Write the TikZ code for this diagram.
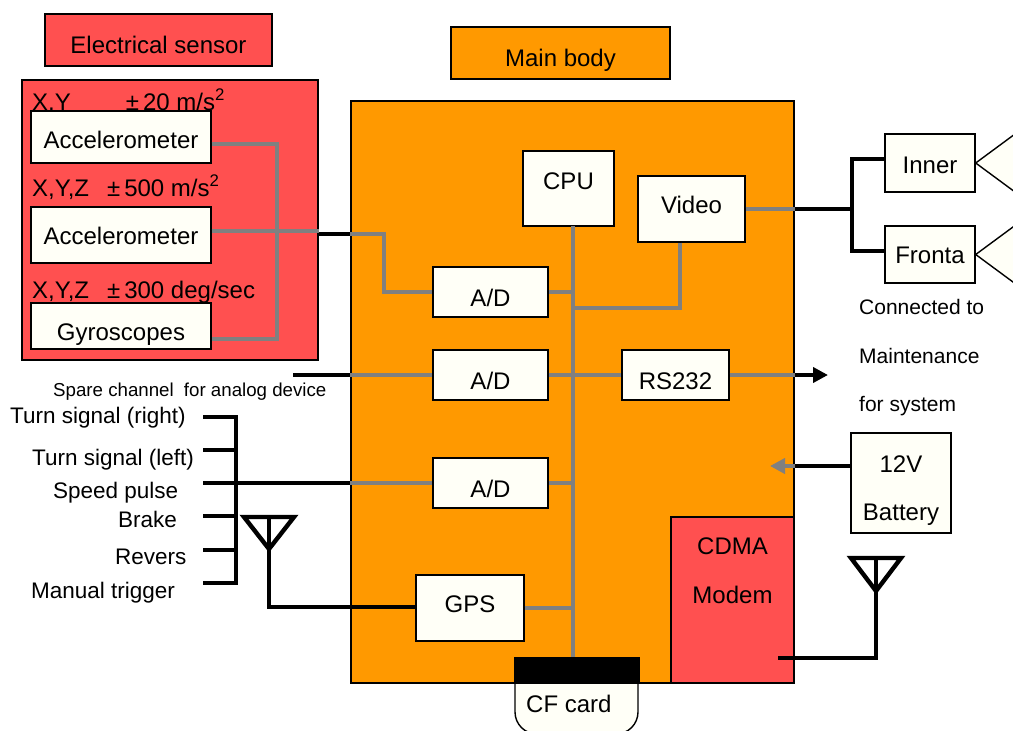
\documentclass[tikz,border=0pt]{standalone}
\usepackage{fontspec}
\setmainfont{Liberation Sans}
\usetikzlibrary{arrows.meta}
\definecolor{bodyorange}{HTML}{FF9900}
\definecolor{sensorred}{HTML}{FF5050}
\definecolor{boxcream}{HTML}{FFFFF7}
\definecolor{wiregrey}{HTML}{808080}
% text with its baseline a given distance below the centre of the box
\newcommand{\basetext}[2]{\raisebox{-#1pt}[0pt][0pt]{#2}}
\tikzset{
    box/.style={draw=black, line width=1.4pt, fill=#1, inner sep=0pt, font=\fontsize{24}{28}\selectfont},
    box/.default=boxcream,
    lab/.style={anchor=base west, inner sep=0pt, font=\fontsize{24}{28}\selectfont},
    smalllab/.style={lab, font=\fontsize{21}{25}\selectfont},
    siglab/.style={lab, font=\fontsize{22.5}{26}\selectfont},
    greywire/.style={draw=wiregrey, line width=4pt},
    blackwire/.style={draw=black, line width=4.4pt},
    thinwire/.style={draw=black, line width=3.4pt}
}
\begin{document}
\begin{tikzpicture}[>={Triangle[length=15pt,width=15pt]}, x=1pt, y=-1pt]
    \clip (0,0) rectangle (1013,731);

    % titles
    \node[box=sensorred, minimum width=227pt, minimum height=52pt] (sensortitle) at (158.5,40) {\basetext{13}{Electrical sensor}};
    \node[box=bodyorange, minimum width=219pt, minimum height=52pt] (bodytitle) at (560.5,53) {\basetext{13}{Main body}};

    % sensor block
    \node[box=sensorred, minimum width=296pt, minimum height=280pt] (sensor) at (170,220) {};
    \node[lab] (rangea) at (32,110) {X,Y\hspace{55pt}±\,20 m/s\textsuperscript{2}};
    \node[lab] (rangeb) at (32,196) {X,Y,Z\hspace{18pt}±\,500 m/s\textsuperscript{2}};
    \node[lab] (rangec) at (32,298) {X,Y,Z\hspace{18pt}±\,300 deg/sec};
    \node[box, minimum width=180pt, minimum height=52pt] (acca) at (121,137) {\basetext{11}{Accelerometer}};
    \node[box, minimum width=180pt, minimum height=56pt] (accb) at (121,235) {\basetext{9}{Accelerometer}};
    \node[box, minimum width=180pt, minimum height=46pt] (gyro) at (121,326) {\basetext{14}{Gyroscopes}};

    % main body
    \node[box=bodyorange, minimum width=443pt, minimum height=582pt] (body) at (572.5,392) {};
    \node[box=sensorred, minimum width=123pt, minimum height=166pt] (modem) at (732.5,600) {};
    \node[lab, anchor=base] (modema) at (732.5,554) {CDMA};
    \node[lab, anchor=base] (modemb) at (732.5,603) {Modem};

    \node[box, minimum width=91pt, minimum height=75pt] (cpu) at (568.5,188.5) {\basetext{1}{CPU}};
    \node[box, minimum width=107pt, minimum height=66pt] (video) at (691.5,209) {\basetext{4}{Video}};
    \node[box, minimum width=115pt, minimum height=50pt] (ada) at (490.5,292) {\basetext{14}{A/D}};
    \node[box, minimum width=115pt, minimum height=50pt] (adb) at (490.5,375) {\basetext{14}{A/D}};
    \node[box, minimum width=115pt, minimum height=50pt] (adc) at (490.5,483) {\basetext{14}{A/D}};
    \node[box, minimum width=107pt, minimum height=50pt] (rs) at (675.5,375) {\basetext{14}{RS232}};
    \node[box, minimum width=108pt, minimum height=66pt] (gps) at (470,608) {\basetext{4}{GPS}};

    % CF card
    \draw[line width=1.4pt, fill=boxcream] (515,675) {[rounded corners=22pt] -- (515,734) -- (638,734)} -- (638,675) -- cycle;
    \node[fill=black, draw=black, minimum width=125pt, minimum height=26pt, inner sep=0pt] (cfslot) at (576.5,670) {};
    \node[lab] (cflabel) at (526,712) {CF card};

    % outside boxes
    \node[box, minimum width=90pt, minimum height=58pt] (inner) at (930,163) {\basetext{10}{Inner}};
    \node[box, minimum width=90pt, minimum height=57pt] (front) at (930,254.5) {\basetext{9}{Fronta}};
    \node[box, minimum width=100pt, minimum height=100pt] (battery) at (901,483) {};
    \node[lab, anchor=base] (batterya) at (901,472) {12V};
    \node[lab, anchor=base] (batteryb) at (901,520) {Battery};

    % cameras, cut off by the page edge
    \foreach \cam in {inner, front} {
        \draw[line width=1.4pt, fill=boxcream] (\cam.east) -- ++(42,-31) -- ++(0,62) -- cycle;
    }

    % sensor wiring
    \coordinate (sensorbus) at (277,144);
    \draw[greywire] ([yshift=-7pt]acca.east) -- (sensorbus) -- (sensorbus |- 0,339) -- ([yshift=-13pt]gyro.east);
    \draw[greywire] ([yshift=4pt]accb.east) -- (sensor.east |- 0,231);
    \coordinate (senswest) at (sensor.east |- 0,234);
    \coordinate (bodywesta) at (body.west |- 0,234);
    \draw[blackwire] (senswest) -- (bodywesta);
    \draw[greywire] (bodywesta) -- (384,234) -- (384,292) -- (ada.west);

    % internal bus
    \coordinate (bustop) at (573,226);
    \coordinate (busbot) at (573,657);
    \draw[greywire] (bustop) -- (busbot);
    \draw[greywire] (ada.east) -- (ada.east -| bustop);
    \draw[greywire] (adb.east) -- (rs.west);
    \draw[greywire] (adc.east) -- (adc.east -| bustop);
    \draw[greywire] (gps.east) -- (gps.east -| bustop);
    \draw[greywire] ([xshift=-11.5pt]video.south) -- (680,308) -- (bustop |- 0,308);

    % video output
    \coordinate (bodyeastv) at (body.east |- video.east);
    \coordinate (splitv) at (852,209);
    \draw[greywire] (video.east) -- (bodyeastv);
    \draw[blackwire] (bodyeastv) -- (splitv);
    \draw[blackwire] (inner.west |- 0,159) -- (splitv |- 0,159) -- (splitv |- 0,251) -- (front.west |- 0,251);

    % spare channel
    \coordinate (sparein) at (293,375);
    \draw[thinwire] (sparein) -- (body.west |- adb.west);
    \draw[greywire] (body.west |- adb.west) -- (adb.west);
    \node[lab, font=\fontsize{18.7}{22}\selectfont] (sparelab) at (53,396) {Spare channel\hspace{5pt} for analog device};

    % RS232 output
    \coordinate (rsout) at (828,375);
    \draw[greywire] (rs.east) -- (body.east |- rs.east);
    \draw[blackwire, ->] (body.east |- rs.east) -- (rsout);
    \node[smalllab] (conna) at (859,314) {Connected to};
    \node[smalllab] (connb) at (859,363) {Maintenance};
    \node[smalllab] (connc) at (859,411) {for system};

    % battery
    \coordinate (powerin) at (770,466);
    \draw[blackwire] (battery.west |- powerin) -- (body.east |- powerin);
    \draw[greywire, ->] (body.east |- powerin) -- (powerin);

    % vehicle signals
    \coordinate (sigbus) at (236,417);
    \draw[blackwire] (203,417) -- (sigbus) -- (sigbus |- 0,583) -- (203,583);
    \foreach \ysig in {450, 516, 550} {
        \draw[thinwire] (203,\ysig) -- (sigbus |- 0,\ysig);
    }
    \draw[thinwire] (203,483) -- (body.west |- adc.west);
    \draw[greywire] (body.west |- adc.west) -- (adc.west);
    \node[siglab] (siga) at (10,423) {Turn signal (right)};
    \node[siglab] (sigb) at (32,465) {Turn signal (left)};
    \node[siglab] (sigc) at (53,498) {Speed pulse};
    \node[siglab] (sigd) at (118,527) {Brake};
    \node[siglab] (sige) at (115,564) {Revers};
    \node[siglab] (sigf) at (31,598) {Manual trigger};

    % GPS antenna
    \coordinate (anta) at (269,517);
    \draw[blackwire, miter limit=10] ([xshift=-25pt]anta) -- ([xshift=25pt]anta) -- (269,549) -- cycle;
    \draw[thinwire] (anta) -- (269,607) -- (gps.west |- 0,607);

    % CDMA antenna
    \coordinate (antb) at (876,558);
    \draw[blackwire, miter limit=10] ([xshift=-25pt]antb) -- ([xshift=25pt]antb) -- (876,591) -- cycle;
    \draw[thinwire] (antb) -- (876,658) -- (778,658);
\end{tikzpicture}
\end{document}
